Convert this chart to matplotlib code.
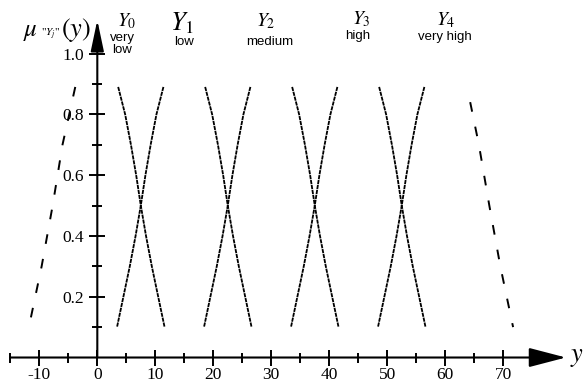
import matplotlib
matplotlib.use('Agg')
import numpy as np
import matplotlib.pyplot as plt

plt.rcParams['font.family'] = ['Liberation Serif', 'DejaVu Serif']
plt.rcParams['mathtext.fontset'] = 'stix'
plt.rcParams['lines.scale_dashes'] = False

# centres of the fuzzy terms Y0..Y4
centers = [0, 15, 30, 45, 60]
names = ['0', '1', '2', '3', '4']
words = ['very\nlow', 'low', 'medium', 'high', 'very high']

# one flank of a membership function: distance from centre vs membership
mu_side = [0.89, 0.80, 0.70, 0.60, 0.50, 0.40, 0.30, 0.20, 0.10]
dist_side = [3.6, 4.8, 5.8, 6.7, 7.5, 8.4, 9.4, 10.5, 11.6]

# outer (dashed) flanks
mu_outer_left = [0.89, 0.70, 0.50, 0.30, 0.10]
dist_outer_left = [3.8, 6.0, 7.7, 9.6, 11.8]
mu_outer_right = [0.84, 0.70, 0.50, 0.30, 0.10]
dist_outer_right = [4.3, 5.8, 7.6, 9.5, 11.7]

xticks = [-10, 0, 10, 20, 30, 40, 50, 60, 70]
yticks = [0.2, 0.4, 0.6, 0.8, 1.0]

fig = plt.figure(figsize=(5.85, 3.87), dpi=100)
ax = fig.add_axes([0, 0, 1, 1])
ax.set_xlim(-16.78, 84.1)
ax.set_ylim(-0.097, 1.176)

mu = np.array(mu_side)
d = np.array(dist_side)
fine = (0, (3, 0.6))
for i, c in enumerate(centers):
    if i > 0:
        ax.plot(c - d, mu, color='k', lw=1.3, ls=fine)
    if i < len(centers) - 1:
        ax.plot(c + d, mu, color='k', lw=1.3, ls=fine)

big = (0, (7, 11))
ax.plot(centers[0] - np.array(dist_outer_left), mu_outer_left, color='k', lw=1.4, ls=big)
ax.plot(centers[-1] + np.array(dist_outer_right), mu_outer_right, color='k', lw=1.4, ls=big)

# axes through the origin
for s in ['top', 'right']:
    ax.spines[s].set_visible(False)
ax.spines['left'].set_position(('data', 0))
ax.spines['bottom'].set_position(('data', 0))
ax.spines['left'].set_color('none')
ax.spines['bottom'].set_color('none')

ax.set_xticks(xticks)
ax.set_xticklabels([str(t) for t in xticks])
ax.set_xticks(np.arange(-15, 80, 10), minor=True)
ax.set_yticks(yticks)
ax.set_yticklabels(['%.1f' % t for t in yticks])
ax.set_yticks(np.arange(0.1, 1.0, 0.2), minor=True)
ax.tick_params(which='major', direction='inout', length=12, width=1.4, labelsize=12.5, pad=1)
ax.tick_params(axis='y', which='major', pad=3.5)
ax.tick_params(which='minor', direction='inout', length=7, width=1.4)

ax.annotate('', xy=(80.8, 0), xytext=(-15, 0),
            arrowprops=dict(arrowstyle='-|>,head_length=23,head_width=6', mutation_scale=1,
                            lw=1.5, color='k', shrinkA=0, shrinkB=0))
ax.annotate('', xy=(0, 1.11), xytext=(0, 0),
            arrowprops=dict(arrowstyle='-|>,head_length=19,head_width=4', mutation_scale=1,
                            lw=1.5, color='k', shrinkA=0, shrinkB=0))

# labels of the terms
label_x = [5.1, 14.6, 29.1, 45.5, 60.0]
label_y = [1.107, 1.100, 1.105, 1.112, 1.110]
label_size = [14, 19, 14, 14, 14]
word_x = [4.3, 14.9, 29.8, 44.9, 60.0]
word_y = [1.030, 1.038, 1.038, 1.056, 1.054]
for i in range(len(centers)):
    ax.text(label_x[i], label_y[i], r'$Y_{%s}$' % names[i], fontsize=label_size[i],
            ha='center', va='center')
    ax.text(word_x[i], word_y[i], words[i], fontsize=9.5, family='Liberation Sans',
            ha='center', va='center', linespacing=1.0)

# y-axis name: mu "Y_j" (y)
ax.text(-11.6, 1.072, r'$\mu$', fontsize=18, ha='center', va='center')
ax.text(-8.0, 1.062, r'"$Y_j$"', fontsize=8, ha='center', va='center')
ax.text(-3.6, 1.077, r'$(y)$', fontsize=19, ha='center', va='center')
ax.text(82.7, 0.0, r'$y$', fontsize=19, ha='center', va='center')

fig.savefig('out.png', dpi=100)
